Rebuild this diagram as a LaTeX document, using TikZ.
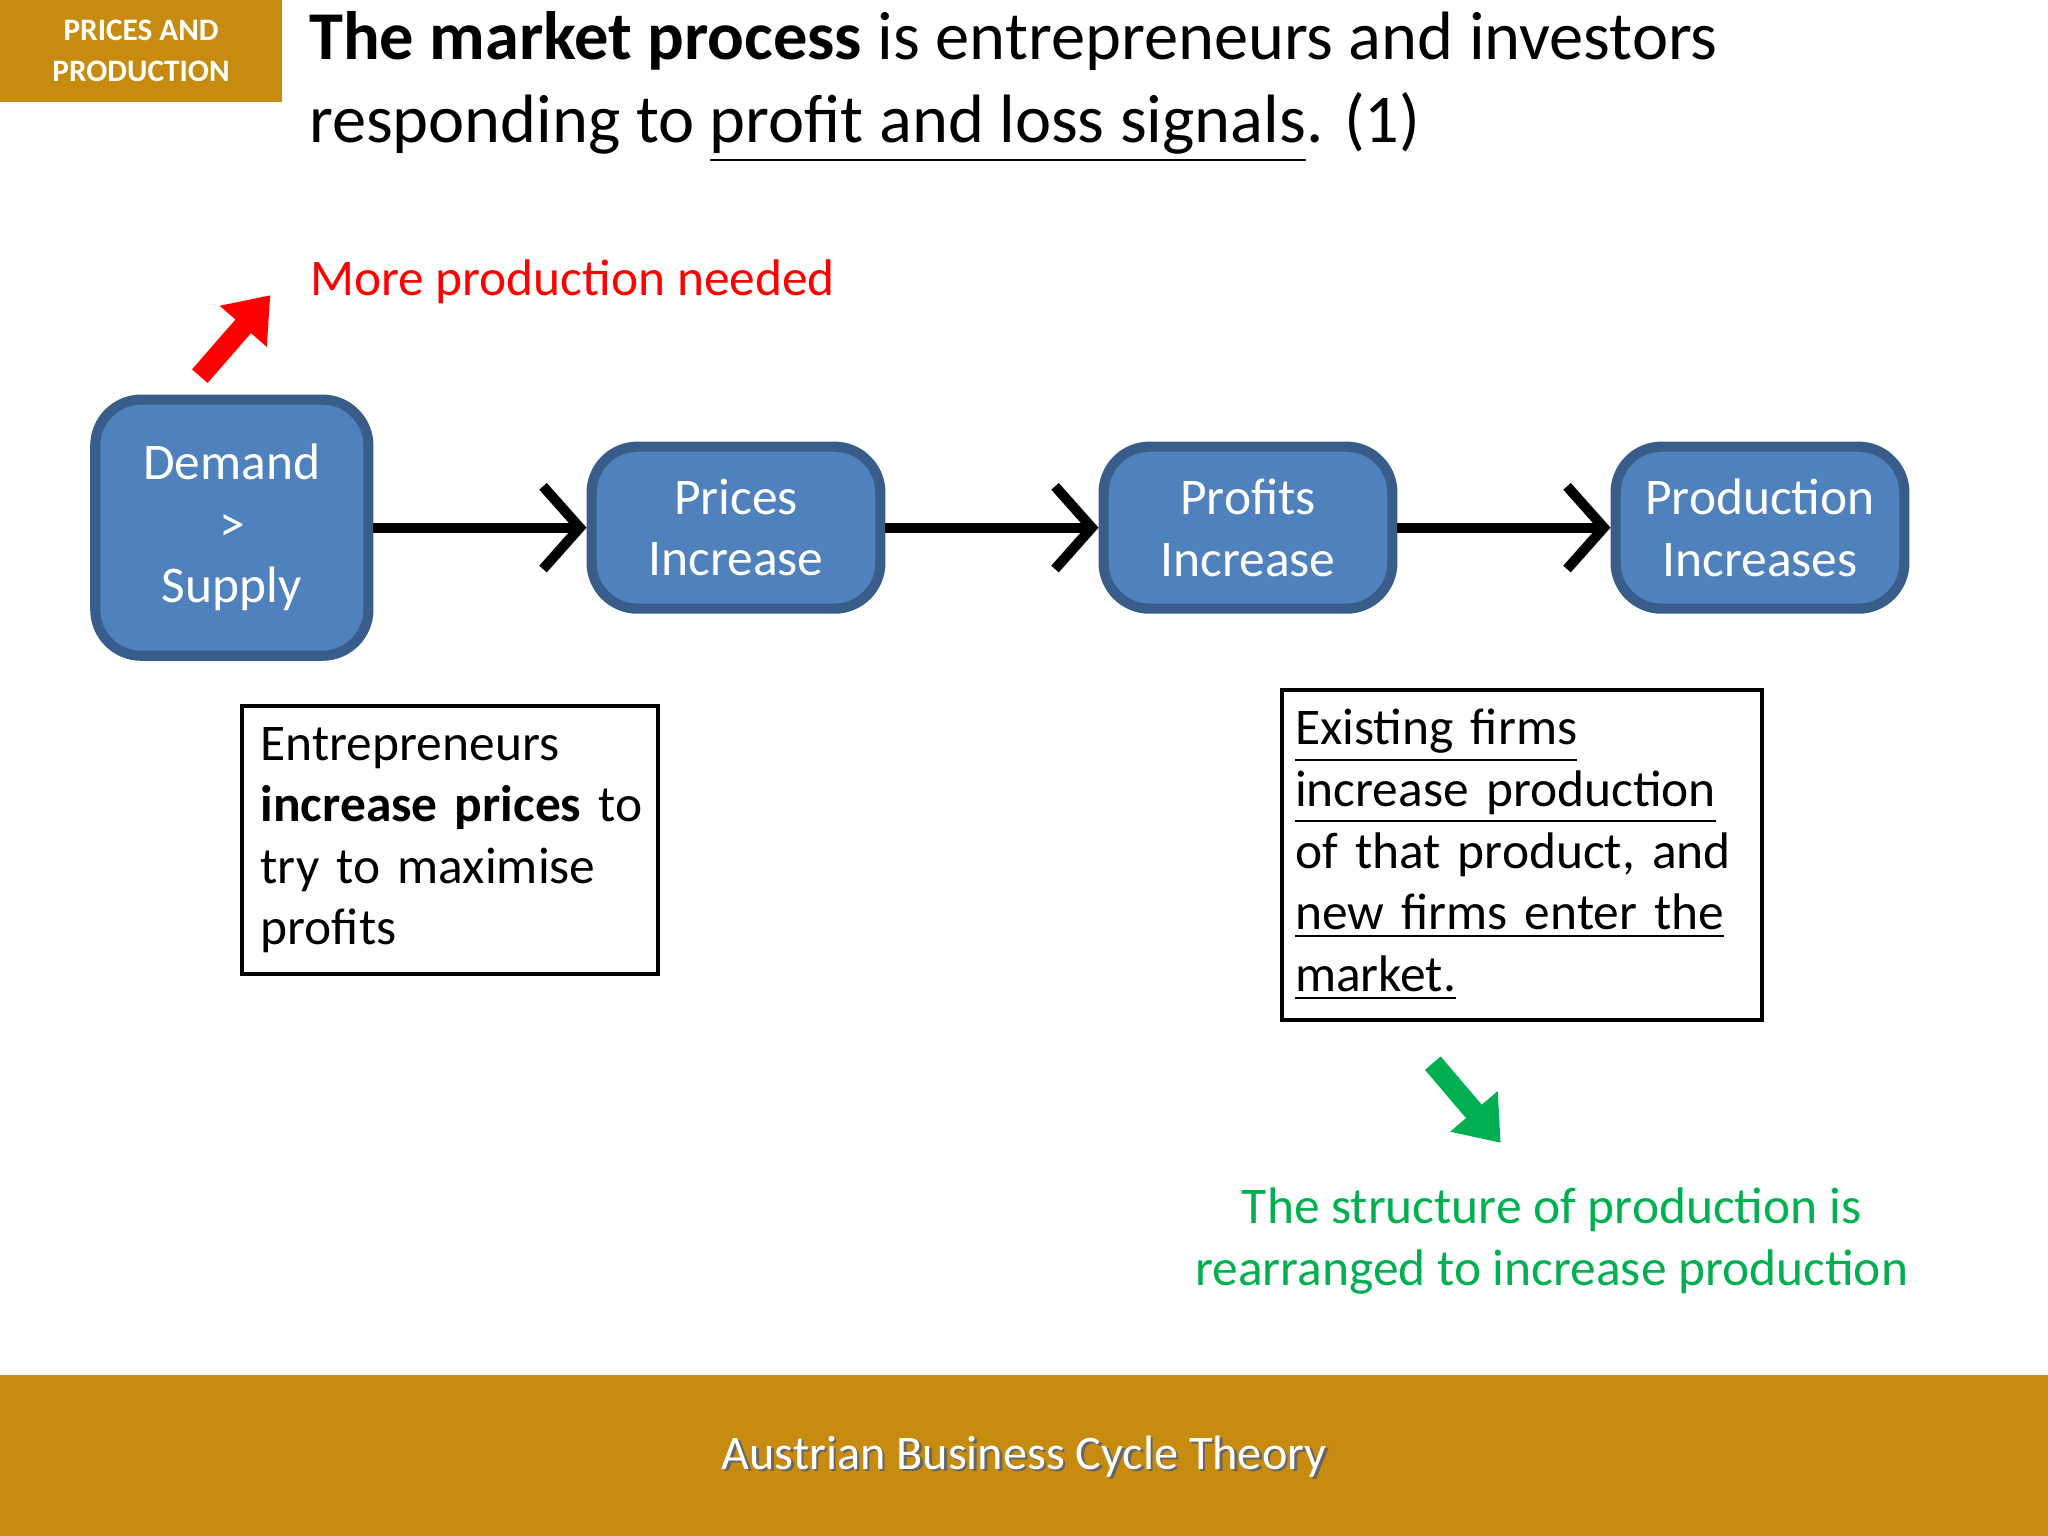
\documentclass[tikz,border=0pt]{standalone}
\usepackage{fontspec}
\setmainfont{Carlito}
\usetikzlibrary{arrows.meta}
\definecolor{gold}{HTML}{C68B0F}
\definecolor{boxfill}{HTML}{4F81BD}
\definecolor{boxline}{HTML}{385D8A}
\definecolor{grn}{HTML}{00B050}
\begin{document}
\begin{tikzpicture}[x=0.01cm,y=-0.01cm,
  blue box/.style={draw=boxline,line width=2.2pt,fill=boxfill,rounded corners=10pt,text=white,font=\fontsize{11.2}{13.4}\selectfont,align=center,inner sep=0pt},
  flow/.style={line width=2.2pt,-{Straight Barb[length=8pt,width=18pt,line width=2.2pt]}},
  note/.style={draw=black,line width=0.9pt,align=left,anchor=north west,font=\fontsize{11.2}{13.4}\selectfont},
  big arrow/.style={line width=4.5pt,-{Triangle[length=9pt,width=13pt]}}]
\useasboundingbox (0,0) rectangle (1568,1176);
\fill[gold] (0,0) rectangle (216,78);
\node[text=white,font=\fontsize{6.8}{8.8}\selectfont\bfseries,align=center] (tag) at (108,39) {PRICES AND\\PRODUCTION};
\fill[gold] (0,1053) rectangle (1568,1176);
\node[text=black!60,font=\fontsize{10.5}{12}\selectfont] at (786,1117) {Austrian Business Cycle Theory};
\node[text=white,font=\fontsize{10.5}{12}\selectfont] (foot) at (784,1115) {Austrian Business Cycle Theory};
\node[anchor=north west,align=left,inner sep=0pt,font=\fontsize{14.9}{18}\selectfont] (title) at (236,8)
 {\textbf{The market process} is entrepreneurs and investors\\responding to \underline{profit and loss signals}. (1)};
\node[blue box,minimum width=2.09cm,minimum height=1.96cm] (d) at (177.5,404) {Demand\\>\\Supply};
\node[blue box,minimum width=2.21cm,minimum height=1.24cm] (p) at (563.5,404) {Prices\\Increase};
\node[blue box,minimum width=2.21cm,minimum height=1.24cm] (q) at (955.5,404) {Profits\\Increase};
\node[blue box,minimum width=2.21cm,minimum height=1.24cm] (r) at (1347.5,404) {Production\\Increases};
\draw[flow] (d) -- (p);
\draw[flow] (p) -- (q);
\draw[flow] (q) -- (r);
\coordinate (ra) at (153,288); \coordinate (rb) at (207,226);
\draw[big arrow,red] (ra) -- (rb);
\node[anchor=west,text=red,font=\fontsize{11.2}{13.4}\selectfont] (more) at (225,216) {More production needed};
\node[note,text width=2.98cm,minimum height=2.05cm,inner xsep=0.1cm,inner ysep=0.08cm] (n1) at (184,539)
 {\hspace{0.04cm}Entrepreneurs\\\hspace{0.04cm}\textbf{increase prices} to\\\hspace{0.04cm}try to maximise\\\hspace{0.04cm}profits};
\node[note,text width=3.47cm,minimum height=2.52cm,inner xsep=0.1cm,inner ysep=0.06cm] (n2) at (980,527)
 {\underline{Existing firms}\\\underline{increase production}\\of that product, and\\\underline{new firms enter the}\\\underline{market.}};
\coordinate (ga) at (1097,814); \coordinate (gb) at (1149,875);
\draw[big arrow,grn] (ga) -- (gb);
\node[text=grn,align=center,font=\fontsize{11.2}{13.4}\selectfont] (gt) at (1188,950) {The structure of production is\\rearranged to increase production};
\end{tikzpicture}
\end{document}
